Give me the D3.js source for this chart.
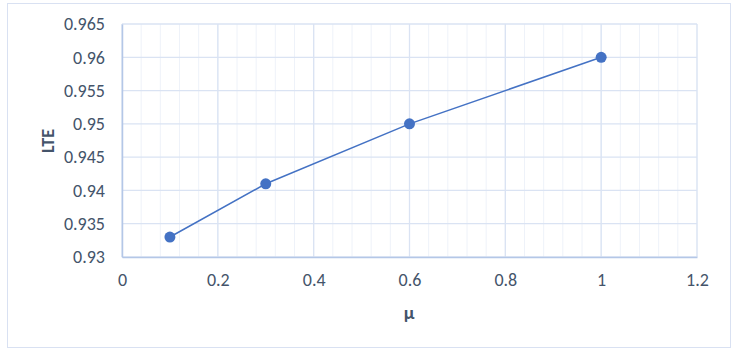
<!DOCTYPE html>
<html>
<head>
<meta charset="utf-8">
<script src="https://cdn.jsdelivr.net/npm/d3@7"></script>
<style>
  body { margin: 0; background: #fff; }
  text { font-family: Calibri, Carlito, "Open Sans", sans-serif; }
</style>
</head>
<body>
<div class="graph"></div>
<script>
let width = 735;
let height = 350;

// données
let muValues = [0.1, 0.3, 0.6, 1];
let lteValues = [0.933, 0.941, 0.95, 0.96];
let xTicks = [0, 0.2, 0.4, 0.6, 0.8, 1, 1.2];
let yTicks = [0.93, 0.935, 0.94, 0.945, 0.95, 0.955, 0.96, 0.965];
let xMinor = d3.range(0, 1.2001, 0.04);

let plotLeft = 122, plotRight = 697, plotTop = 24, plotBottom = 257;
let textColor = "#44546A";

let svg = d3.select('.graph')
    .append('svg')
    .attr('width', width)
    .attr('height', height);

// cadre extérieur
svg.append('rect')
    .attr('x', 7.5).attr('y', 3.5)
    .attr('width', 723).attr('height', 344)
    .attr('fill', '#fff')
    .attr('stroke', '#D9E1F2');

let x = d3.scaleLinear().domain([0, 1.2]).range([plotLeft, plotRight]);
let y = d3.scaleLinear().domain([0.93, 0.965]).range([plotBottom, plotTop]);

// grille secondaire
svg.append('g').selectAll('line')
    .data(xMinor)
    .enter().append('line')
    .attr('x1', d => x(d)).attr('x2', d => x(d))
    .attr('y1', plotTop).attr('y2', plotBottom)
    .attr('stroke', '#EEF2F9')
    .attr('stroke-width', 1);

// grille principale
svg.append('g').selectAll('line')
    .data(xTicks)
    .enter().append('line')
    .attr('x1', d => x(d)).attr('x2', d => x(d))
    .attr('y1', plotTop).attr('y2', plotBottom)
    .attr('stroke', '#DAE3F3')
    .attr('stroke-width', 1.3);

svg.append('g').selectAll('line')
    .data(yTicks)
    .enter().append('line')
    .attr('x1', plotLeft).attr('x2', plotRight)
    .attr('y1', d => y(d)).attr('y2', d => y(d))
    .attr('stroke', '#DAE3F3')
    .attr('stroke-width', 1.3);

// axes
let xAxis = d3.axisBottom(x)
    .tickValues(xTicks)
    .tickSize(0)
    .tickPadding(16)
    .tickFormat(d => String(+d.toFixed(2)));
let gx = svg.append('g')
    .attr('transform', 'translate(0,' + plotBottom + ')')
    .call(xAxis);
gx.select('.domain').attr('stroke', '#B4C7E7').attr('stroke-width', 1.5);

let yAxis = d3.axisLeft(y)
    .tickValues(yTicks)
    .tickSize(0)
    .tickPadding(17)
    .tickFormat(d => String(+d.toFixed(3)));
let gy = svg.append('g')
    .attr('transform', 'translate(' + plotLeft + ',0)')
    .call(yAxis);
gy.select('.domain').attr('stroke', '#B4C7E7').attr('stroke-width', 1.5);

svg.selectAll('.tick text')
    .style('font-size', '18px')
    .attr('fill', textColor);

// la courbe
let line = d3.line()
    .x((d, i) => x(muValues[i]))
    .y(d => y(d));
svg.append('path')
    .datum(lteValues)
    .attr('d', line)
    .attr('fill', 'none')
    .attr('stroke', '#4472C4')
    .attr('stroke-width', 1.5);

svg.selectAll('circle.pt')
    .data(lteValues)
    .enter().append('circle')
    .attr('class', 'pt')
    .attr('cx', (d, i) => x(muValues[i]))
    .attr('cy', d => y(d))
    .attr('r', 5.5)
    .attr('fill', '#4472C4');

// titres des axes
svg.append('text')
    .attr('transform', 'translate(54,141) rotate(-90)')
    .attr('text-anchor', 'middle')
    .style('font-size', '18px')
    .style('font-weight', 'bold')
    .attr('fill', textColor)
    .text('LTE');

svg.append('text')
    .attr('x', 409)
    .attr('y', 319)
    .attr('text-anchor', 'middle')
    .style('font-size', '19px')
    .style('font-weight', 'bold')
    .attr('fill', textColor)
    .text('μ');
</script>
</body>
</html>
